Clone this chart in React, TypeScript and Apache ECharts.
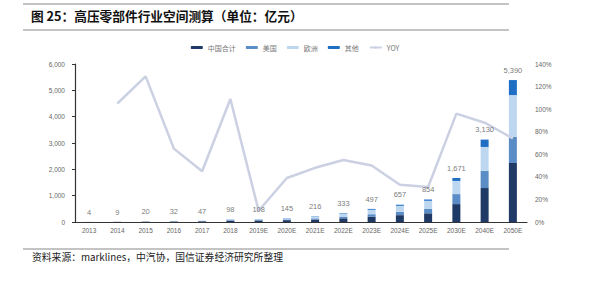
import React, { useEffect, useRef } from "react";
import * as echarts from "echarts";

const categories = ["2013","2014","2015","2016","2017","2018","2019E","2020E","2021E","2022E","2023E","2024E","2025E","2030E","2040E","2050E"];
const china = [2,5,12,18,26,52,55,70,95,140,200,260,330,680,1290,2240];
const usa = [1,2,4,6,9,18,20,28,42,65,95,125,165,380,650,990];
const europe = [1,2,3,6,9,22,26,38,66,108,170,230,310,500,910,1590];
const other = [0,0,1,2,3,6,7,9,13,20,32,42,49,111,280,570];
const totals = [4,9,20,32,47,98,108,145,216,333,497,657,854,1671,3130,5390];
const yoy = [null,105,129,65,45,109,10,39,48,55,50,33,31,96,88,74];
const leftTicks = [0,1000,2000,3000,4000,5000,6000];

const FONT = "'Liberation Sans', Arial, 'Noto Sans CJK SC', sans-serif";

export default function App() {
  const ref = useRef<HTMLDivElement>(null);
  useEffect(() => {
    if (!ref.current) return;
    const chart = echarts.init(ref.current, null, { renderer: "svg" });
    const barW = 8;
    chart.setOption({
      animation: false,
      textStyle: { fontFamily: FONT },
      graphic: [
        { type: "line", shape: { x1: 23, y1: 4, x2: 509, y2: 4 }, style: { stroke: "#888", lineWidth: 1 } },
        { type: "line", shape: { x1: 23, y1: 30, x2: 509, y2: 30 }, style: { stroke: "#888", lineWidth: 1 } },
        { type: "text", left: 31, top: 9, style: { text: "图 25：高压零部件行业空间测算（单位：亿元）", font: "bold 12.7px 'Noto Sans CJK SC', sans-serif", fill: "#111" } },
        { type: "line", shape: { x1: 23, y1: 249, x2: 509, y2: 249 }, style: { stroke: "#888", lineWidth: 1 } },
        { type: "text", left: 32, top: 252, style: { text: "资料来源：marklines，中汽协，国信证券经济研究所整理", font: "9.8px 'Noto Sans CJK SC', sans-serif", fill: "#222" } },
      ],
      legend: {
        top: 39,
        left: "center",
        itemWidth: 12,
        itemHeight: 3,
        itemGap: 10,
        textStyle: { fontSize: 7, color: "#777", fontFamily: "'Noto Sans CJK SC', sans-serif" },
        data: [
          { name: "中国合计", icon: "roundRect" },
          { name: "美国", icon: "roundRect" },
          { name: "欧洲", icon: "roundRect" },
          { name: "其他", icon: "roundRect" },
          { name: "YOY" },
        ],
      },
      grid: { left: 75, right: 63, top: 64, bottom: 60 },
      xAxis: {
        type: "category",
        data: categories,
        axisLine: { lineStyle: { color: "#333", width: 1.2 } },
        axisTick: { show: false },
        axisLabel: { fontSize: 6.5, color: "#666", margin: 5, interval: 0 },
      },
      yAxis: [
        {
          type: "value",
          min: 0,
          max: 6000,
          interval: 1000,
          axisLine: { show: true, lineStyle: { color: "#333", width: 1.2 } },
          axisTick: { show: true, length: 3, lineStyle: { color: "#333" } },
          splitLine: { show: false },
          axisLabel: {
            fontSize: 6.5,
            color: "#666",
            margin: 10,
            formatter: (v: number) => (leftTicks.includes(v) ? v.toLocaleString("en-US") : ""),
          },
        },
        {
          type: "value",
          min: 0,
          max: 140,
          interval: 20,
          position: "right",
          axisLine: { show: false },
          axisTick: { show: false },
          splitLine: { show: false },
          axisLabel: { fontSize: 6.5, color: "#666", margin: 8, formatter: "{value}%" },
        },
      ],
      series: [
        { name: "中国合计", type: "bar", stack: "s", barWidth: barW, data: china, itemStyle: { color: "#1F3A66" } },
        { name: "美国", type: "bar", stack: "s", barWidth: barW, data: usa, itemStyle: { color: "#5A8CC6" } },
        { name: "欧洲", type: "bar", stack: "s", barWidth: barW, data: europe, itemStyle: { color: "#BDD7F1" } },
        { name: "其他", type: "bar", stack: "s", barWidth: barW, data: other, itemStyle: { color: "#1E6FC4" } },
        {
          name: "YOY",
          type: "line",
          yAxisIndex: 1,
          data: yoy,
          symbol: "none",
          lineStyle: { color: "#CBD0E2", width: 2.5 },
          itemStyle: { color: "#CBD0E2" },
          z: 5,
        },
        {
          name: "总计",
          type: "scatter",
          data: totals,
          symbolSize: 0,
          silent: true,
          z: 6,
          label: {
            show: true,
            position: "top",
            distance: 6,
            fontSize: 7.5,
            color: "#555",
            formatter: (p: any) => Number(p.value).toLocaleString("en-US"),
          },
        },
      ],
    });
    return () => chart.dispose();
  }, []);
  return <div ref={ref} style={{ position: "absolute", left: 0, top: 0, width: 590, height: 282 }} />;
}
